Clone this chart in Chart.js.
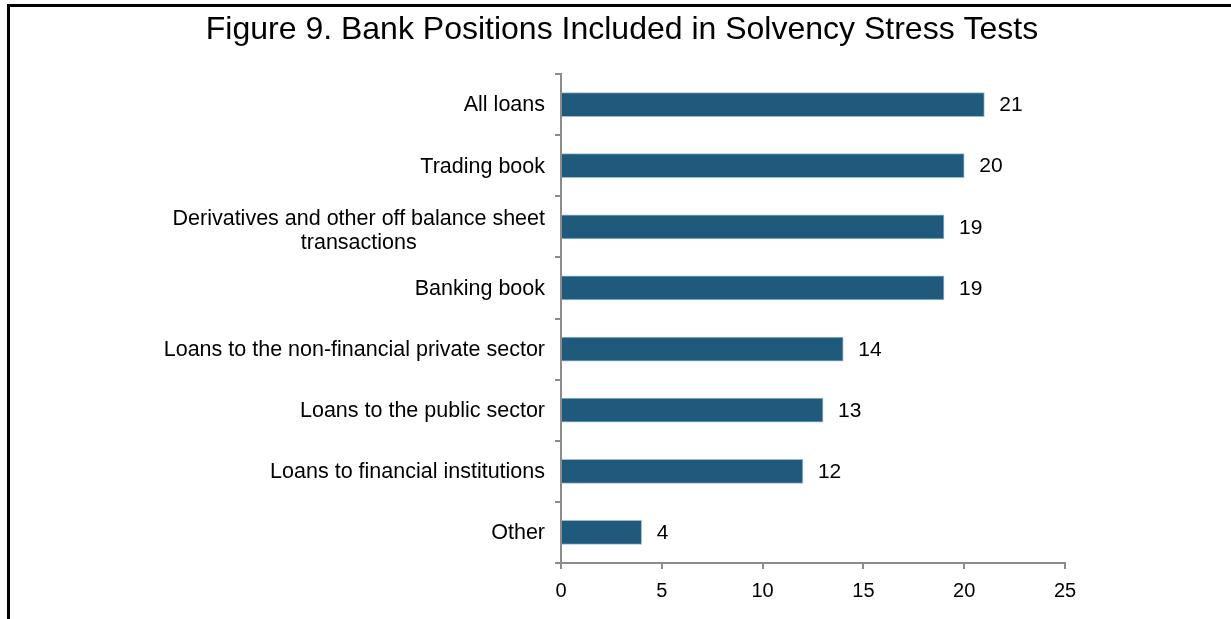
<html>
<head>
<meta charset="UTF-8">
<title>Figure 9</title>
<script src="https://cdn.jsdelivr.net/npm/chart.js@4.4.0/dist/chart.umd.min.js"></script>
<style>
  html, body { margin: 0; padding: 0; background: #fff; }
  #wrap { width: 1231px; height: 619px; }
</style>
</head>
<body>
<div id="wrap"><canvas id="chart" width="1231" height="619"></canvas></div>
<script>
var titleText = "Figure 9. Bank Positions Included in Solvency Stress Tests";
var categories = [
  ["All loans"],
  ["Trading book"],
  ["Derivatives and other off balance sheet", "transactions"],
  ["Banking book"],
  ["Loans to the non-financial private sector"],
  ["Loans to the public sector"],
  ["Loans to financial institutions"],
  ["Other"]
];
var counts = [21, 20, 19, 19, 14, 13, 12, 4];
var xTicks = [0, 5, 10, 15, 20, 25];

var FONT = "'Liberation Sans', Arial, sans-serif";

// frame, title, category labels and value labels
var extras = {
  id: "extras",
  afterDraw: function(chart) {
    var ctx = chart.ctx;
    var yScale = chart.scales.y;
    var area = chart.chartArea;
    ctx.save();
    // frame
    ctx.strokeStyle = "#000";
    ctx.lineWidth = 3;
    ctx.beginPath();
    ctx.moveTo(8.5, 619);
    ctx.lineTo(8.5, 5.5);
    ctx.lineTo(1231, 5.5);
    ctx.stroke();
    // title
    ctx.fillStyle = "#000";
    ctx.font = "32px " + FONT;
    ctx.textAlign = "center";
    ctx.textBaseline = "middle";
    ctx.fillText(titleText, 622, 30);
    // category labels
    ctx.font = "21.5px " + FONT;
    ctx.textBaseline = "middle";
    categories.forEach(function(lines, i) {
      var y = yScale.getPixelForValue(i) + 1;
      var right = area.left - 16;
      if (lines.length === 1) {
        ctx.textAlign = "right";
        ctx.fillText(lines[0], right, y);
      } else {
        var w = ctx.measureText(lines[0]).width;
        var cx = right - w / 2;
        ctx.textAlign = "center";
        for (var k = 0; k < lines.length; k++) {
          ctx.fillText(lines[k], cx, y + 3 + (k - (lines.length - 1) / 2) * 24);
        }
      }
    });
    // value labels
    var meta = chart.getDatasetMeta(0);
    ctx.font = "21px " + FONT;
    ctx.textAlign = "left";
    meta.data.forEach(function(bar, i) {
      ctx.fillText(String(counts[i]), bar.x + 15, bar.y + 1);
    });
    ctx.restore();
  }
};

new Chart(document.getElementById("chart"), {
  type: "bar",
  data: {
    labels: categories.map(function(c) { return c.join(" "); }),
    datasets: [{
      data: counts,
      backgroundColor: "#1f5a7d",
      borderColor: "#9dbbd0",
      borderWidth: 1,
      barThickness: 24
    }]
  },
  options: {
    indexAxis: "y",
    responsive: false,
    animation: false,
    layout: { padding: { left: 561, right: 166, top: 74, bottom: 0 } },
    plugins: { legend: { display: false }, tooltip: { enabled: false } },
    scales: {
      y: {
        ticks: { display: false },
        grid: { drawOnChartArea: false, tickLength: 6, color: "#8c8c8c", lineWidth: 2 },
        border: { color: "#8c8c8c", width: 2 },
        afterFit: function(s) { s.width = 0; }
      },
      x: {
        min: 0,
        max: 25,
        afterBuildTicks: function(s) { s.ticks = xTicks.map(function(v) { return { value: v }; }); },
        ticks: { color: "#000", font: { family: FONT, size: 20 }, padding: 10 },
        grid: { drawOnChartArea: false, tickLength: 6, color: "#8c8c8c", lineWidth: 2 },
        border: { color: "#8c8c8c", width: 2 },
        afterFit: function(s) { s.height = 56; }
      }
    }
  },
  plugins: [extras]
});
</script>
</body>
</html>
